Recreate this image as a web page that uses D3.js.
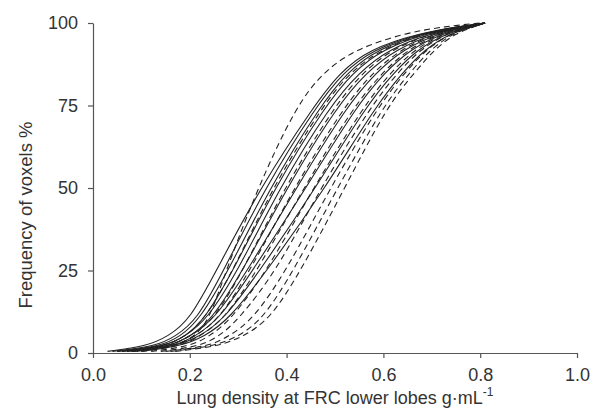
<!DOCTYPE html>
<html>
<head>
<meta charset="utf-8">
<script src="https://cdn.jsdelivr.net/npm/d3@7"></script>
<style>
  body { margin: 0; background: #fff; }
  svg text { font-family: "Liberation Sans", Arial, sans-serif; fill: #333; }
</style>
</head>
<body>
<svg id="chart" width="600" height="420"></svg>
<script>
// cumulative frequency levels (%) at which each curve's density was read
const levels = [0.5, 2, 5, 10, 25, 50, 75, 85, 92, 97, 99, 100];

// lung density (g/mL) reached at each level, one row per subject
const solidCurves = [
    [0.03, 0.11, 0.155, 0.20, 0.255, 0.345, 0.457, 0.51, 0.57, 0.676, 0.76, 0.81],
    [0.04, 0.13, 0.17, 0.215, 0.27, 0.355, 0.462, 0.517, 0.578, 0.68, 0.762, 0.81],
    [0.05, 0.14, 0.18, 0.22, 0.28, 0.365, 0.47, 0.525, 0.586, 0.685, 0.765, 0.81],
    [0.05, 0.15, 0.19, 0.23, 0.29, 0.375, 0.48, 0.537, 0.597, 0.692, 0.768, 0.81],
    [0.06, 0.15, 0.19, 0.235, 0.30, 0.385, 0.49, 0.55, 0.61, 0.70, 0.772, 0.81],
    [0.07, 0.16, 0.20, 0.245, 0.31, 0.40, 0.505, 0.565, 0.625, 0.708, 0.776, 0.81],
    [0.08, 0.16, 0.20, 0.25, 0.32, 0.42, 0.525, 0.585, 0.64, 0.716, 0.78, 0.81],
    [0.08, 0.17, 0.21, 0.26, 0.33, 0.44, 0.545, 0.603, 0.655, 0.724, 0.784, 0.81],
    [0.09, 0.17, 0.22, 0.27, 0.345, 0.46, 0.565, 0.622, 0.67, 0.732, 0.787, 0.81],
    [0.10, 0.18, 0.23, 0.28, 0.36, 0.48, 0.585, 0.64, 0.685, 0.74, 0.79, 0.81]
];

const dashedCurves = [
    [0.08, 0.17, 0.21, 0.24, 0.275, 0.34, 0.42, 0.475, 0.54, 0.645, 0.73, 0.80],
    [0.06, 0.15, 0.19, 0.23, 0.29, 0.37, 0.475, 0.53, 0.595, 0.685, 0.76, 0.805],
    [0.07, 0.16, 0.20, 0.25, 0.31, 0.395, 0.50, 0.557, 0.617, 0.70, 0.768, 0.81],
    [0.08, 0.17, 0.21, 0.26, 0.325, 0.415, 0.52, 0.578, 0.635, 0.71, 0.772, 0.81],
    [0.10, 0.18, 0.22, 0.27, 0.34, 0.435, 0.54, 0.598, 0.65, 0.718, 0.776, 0.81],
    [0.12, 0.20, 0.24, 0.285, 0.36, 0.455, 0.56, 0.615, 0.664, 0.726, 0.78, 0.81],
    [0.14, 0.22, 0.26, 0.30, 0.38, 0.47, 0.575, 0.63, 0.676, 0.733, 0.783, 0.81],
    [0.15, 0.24, 0.28, 0.33, 0.40, 0.49, 0.59, 0.645, 0.688, 0.74, 0.786, 0.81],
    [0.16, 0.25, 0.30, 0.35, 0.415, 0.505, 0.60, 0.655, 0.697, 0.745, 0.788, 0.81],
    [0.17, 0.26, 0.31, 0.365, 0.43, 0.52, 0.608, 0.665, 0.705, 0.75, 0.79, 0.81]
];

const xTicks = [0, 0.2, 0.4, 0.6, 0.8, 1.0];
const yTicks = [0, 25, 50, 75, 100];

const svg = d3.select("#chart");

const xScale = d3.scaleLinear().domain([0, 1]).range([93, 577]);
const yScale = d3.scaleLinear().domain([0, 100]).range([353, 23]);

const xAxis = d3.axisBottom(xScale)
    .tickValues(xTicks)
    .tickFormat(d3.format(".1f"))
    .tickSize(5)
    .tickSizeOuter(0)
    .tickPadding(10);
const yAxis = d3.axisLeft(yScale)
    .tickValues(yTicks)
    .tickSize(5)
    .tickSizeOuter(0)
    .tickPadding(10);

const gx = svg.append("g")
    .attr("transform", `translate(0, ${yScale(0)})`)
    .call(xAxis);
const gy = svg.append("g")
    .attr("transform", `translate(${xScale(0)}, 0)`)
    .call(yAxis);

[gx, gy].forEach(g => {
    g.selectAll("path, line").attr("stroke", "#555").attr("stroke-width", 1.2);
    g.selectAll("text").attr("font-size", "18px").attr("fill", "#333");
});

// Axis labels
const xLabel = svg.append("text")
    .attr("x", (xScale(0) + xScale(1)) / 2)
    .attr("y", 404)
    .attr("text-anchor", "middle")
    .attr("font-size", "18px");
xLabel.append("tspan").text("Lung density at FRC lower lobes g\u00B7mL");
xLabel.append("tspan").attr("dy", -8).attr("font-size", "12px").text("-1");

svg.append("text")
    .attr("transform", "rotate(-90)")
    .attr("x", -215)
    .attr("y", 32)
    .attr("text-anchor", "middle")
    .attr("font-size", "18.5px")
    .text("Frequency of voxels %");

// Curves (B-spline through the read points, smooths the corners)
const lineGen = d3.line()
    .x(d => xScale(d[0]))
    .y(d => yScale(d[1]))
    .curve(d3.curveBasis);

const toPoints = row => row.map((v, i) => [v, levels[i]]);

svg.append("g")
    .selectAll("path")
    .data(dashedCurves)
    .join("path")
    .attr("fill", "none")
    .attr("stroke", "#222")
    .attr("stroke-width", 1.1)
    .attr("stroke-dasharray", "6,4")
    .attr("d", d => lineGen(toPoints(d)));

svg.append("g")
    .selectAll("path")
    .data(solidCurves)
    .join("path")
    .attr("fill", "none")
    .attr("stroke", "#222")
    .attr("stroke-width", 1.1)
    .attr("d", d => lineGen(toPoints(d)));
</script>
</body>
</html>
